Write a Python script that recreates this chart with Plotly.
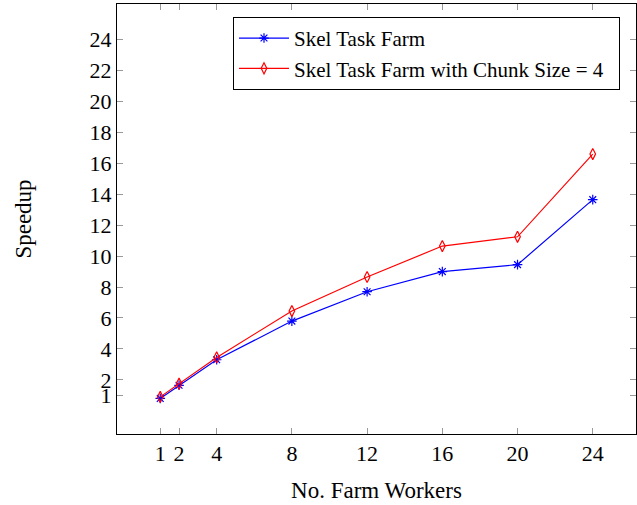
import plotly.graph_objects as go

workers = [1, 2, 4, 8, 12, 16, 20, 24]
skel_task_farm = [0.8, 1.65, 3.3, 5.8, 7.7, 9.0, 9.45, 13.65]
skel_chunk4 = [0.9, 1.75, 3.45, 6.45, 8.65, 10.65, 11.25, 16.6]
x_ticks = [1, 2, 4, 8, 12, 16, 20, 24]
y_ticks = [1, 2, 4, 6, 8, 10, 12, 14, 16, 18, 20, 22, 24]

fig = go.Figure()
fig.add_trace(go.Scatter(
    x=workers, y=skel_task_farm, mode="lines+markers", name="Skel Task Farm",
    line=dict(color="blue", width=1.2),
    marker=dict(symbol="asterisk-open", size=8, line=dict(color="blue", width=1.2)),
))
fig.add_trace(go.Scatter(
    x=workers, y=skel_chunk4, mode="lines+markers", name="Skel Task Farm with Chunk Size = 4  ",
    line=dict(color="red", width=1.2),
    marker=dict(symbol="diamond-tall-open", size=8, color="red", line=dict(color="red", width=1.2)),
))

axis_common = dict(
    showline=True, linecolor="black", linewidth=1, mirror="all",
    ticks="inside", ticklen=6, tickcolor="#999999", tickwidth=1,
    showgrid=False, zeroline=False,
    tickfont=dict(family="Liberation Serif", size=22, color="black"),
)

fig.update_layout(
    width=637, height=505,
    margin=dict(l=117, r=1, t=4, b=71),
    paper_bgcolor="white", plot_bgcolor="white",
    xaxis=dict(range=[-1.3, 26.3], tickmode="array", tickvals=x_ticks,
               ticktext=[str(v) for v in x_ticks],
               title=dict(text="No. Farm Workers", font=dict(family="Liberation Serif", size=23, color="black"), standoff=16),
               **axis_common),
    yaxis=dict(range=[-1.5, 26.3], tickmode="array", tickvals=y_ticks,
               ticktext=[str(v) for v in y_ticks],
               title=dict(text="Speedup", font=dict(family="Liberation Serif", size=23, color="black"), standoff=51),
               **axis_common),
    legend=dict(x=0.2235, y=0.97, xanchor="left", yanchor="top",
                bordercolor="black", borderwidth=1, bgcolor="white",
                font=dict(family="Liberation Serif", size=21, color="black"),
                itemwidth=50),
    showlegend=True,
)

fig.write_html("out.html", config={"displayModeBar": False},
               post_script="document.body.style.margin='0px';")
